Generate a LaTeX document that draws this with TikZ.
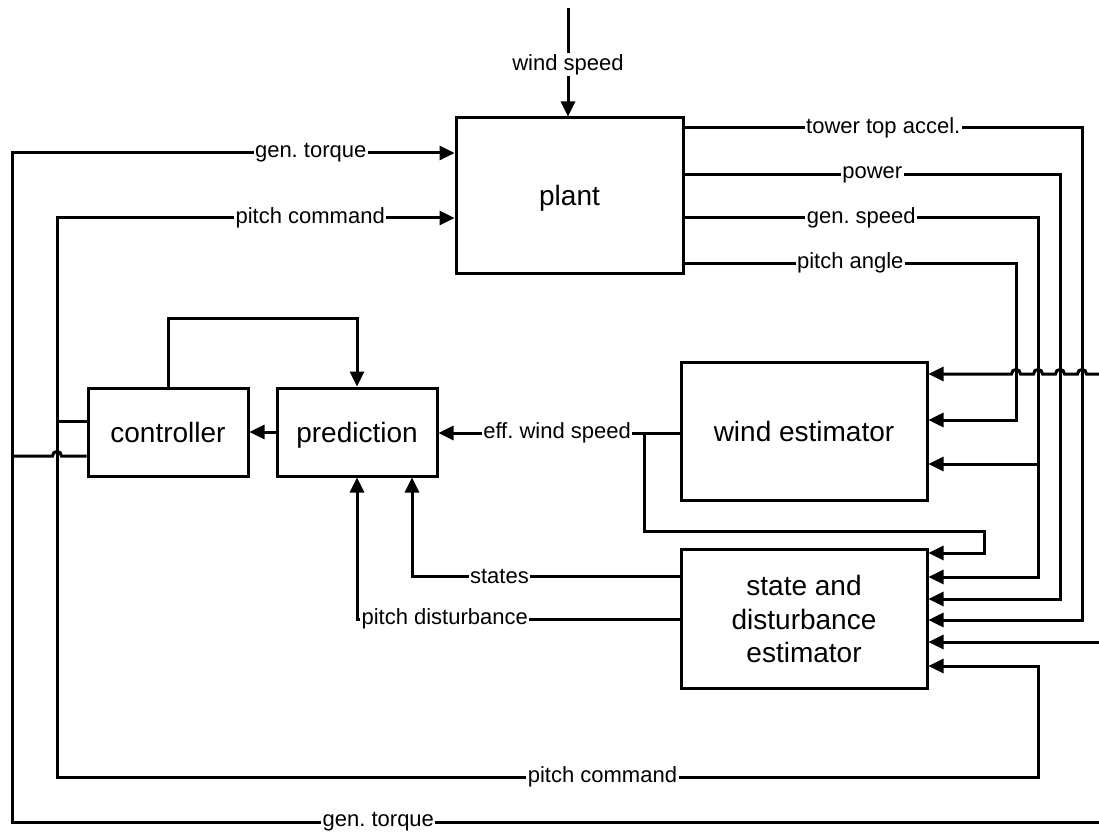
\documentclass[tikz,border=0pt]{standalone}
\usepackage{fontspec}
\setmainfont{Liberation Sans}
\usetikzlibrary{arrows.meta,calc}
\begin{document}
\frenchspacing
\begin{tikzpicture}[x=1pt,y=-1pt,
  blk/.style={draw, line width=3pt, inner sep=0pt, align=center, font=\fontsize{28}{33.5}\selectfont},
  one/.style={text height=20pt, text depth=0pt},
  wire/.style={line width=3pt},
  tip/.tip={Triangle[length=15pt,width=14pt]},
  arr/.style={wire, -tip},
  lbl/.style={fill=white, inner sep=1.5pt, font=\fontsize{22}{26}\selectfont},
]
\useasboundingbox (0,0) rectangle (1099,834);

% blocks
\node[blk, one, minimum width=227pt, minimum height=155pt] (plant) at (569.5,195.5) {plant};
\node[blk, one, minimum width=160pt, minimum height=88pt] (ctrl) at (168,432) {controller};
\node[blk, one, minimum width=160pt, minimum height=88pt] (pred) at (357,432) {prediction};
\node[blk, one, minimum width=246pt, minimum height=138pt] (wind) at (804,431) {wind estimator};
\node[blk, minimum width=246pt, minimum height=139pt] (state) at (804,619) {state and\\disturbance\\estimator};

% coordinates
\coordinate (wsTop) at (568,8);
\coordinate (gtL) at (12,153);
\coordinate (gtB) at (12,822);
\coordinate (gtE) at (1099,822);
\coordinate (pcL) at (57,218);
\coordinate (pcB) at (57,777);
\coordinate (pcR) at (1038,777);
\coordinate (pcS) at (1038,666);
\coordinate (c1) at (57,421);
\coordinate (c2) at (12,456);
\coordinate (fb) at (168,318);
\coordinate (ttR) at (1082,128);
\coordinate (ttS) at (1082,620);
\coordinate (pwR) at (1060,175);
\coordinate (pwS) at (1060,599);
\coordinate (gsR) at (1038,218);
\coordinate (gsW) at (1038,464);
\coordinate (gsS) at (1038,577);
\coordinate (paR) at (1016,263);
\coordinate (paW) at (1016,420);
\coordinate (in1) at (1099,374);
\coordinate (in2) at (1099,642);
\coordinate (br) at (644,433);
\coordinate (brB) at (644,531);
\coordinate (brR) at (984,531);
\coordinate (ew) at (984,553);
\coordinate (stY) at (412,576);
\coordinate (pdY) at (357,619);

% wind speed
\draw[arr] (wsTop) -- node[lbl,pos=0.52]{wind speed} (wsTop |- plant.north);

% gen. torque loop
\draw[wire, tip-] (plant.west |- gtL) -- node[lbl,pos=0.325]{gen. torque} (gtL) -- (gtB) -- node[lbl,pos=0.337]{gen. torque} (gtE);

% pitch command loop
\draw[wire, tip-tip] (plant.west |- pcL) -- node[lbl,pos=0.363]{pitch command} (pcL) -- (pcB) -- node[lbl,pos=0.556]{pitch command} (pcR) -- (pcS) -- (state.east |- pcS);

% controller outputs
\draw[wire] (ctrl.west |- c1) -- (c1);
\draw[wire] (ctrl.west |- c2) -- ($(c1 |- c2)+(4.5,0)$) .. controls +(0,-6) and +(0,-6) .. ($(c1 |- c2)+(-4.5,0)$) -- (c2);

% controller -> prediction feedback
\draw[arr] (ctrl.north) -- (fb) -- (fb -| pred.north) -- (pred.north);
\draw[arr] (pred.west) -- (ctrl.east);

% effective wind speed
\draw[arr] (wind.west |- br) -- node[lbl, pos=0.508]{eff. wind speed} (pred.east |- br);
\draw[arr] (br) -- (brB) -- (brR) -- (ew) -- (state.east |- ew);

% states and pitch disturbance
\draw[arr] (state.west |- stY) -- node[lbl,pos=0.673]{states} (stY) -- (stY |- pred.south);
\draw[arr] (state.west |- pdY) -- node[lbl,pos=0.728]{pitch disturbance} (pdY) -- (pred.south);

% plant outputs
\draw[arr] (plant.east |- ttR) -- node[lbl]{tower top accel.} (ttR) -- (ttS) -- (state.east |- ttS);
\draw[arr] (plant.east |- pwR) -- node[lbl]{power} (pwR) -- (pwS) -- (state.east |- pwS);
\draw[arr] (plant.east |- gsR) -- node[lbl]{gen. speed} (gsR) -- (gsS) -- (state.east |- gsS);
\draw[arr] (gsW) -- (wind.east |- gsW);
\draw[arr] (plant.east |- paR) -- node[lbl]{pitch angle} (paR) -- (paW) -- (wind.east |- paW);

% external inputs
\draw[arr] (in1)
  -- ($(ttR |- in1)+(4.5,0)$) .. controls +(0,-6) and +(0,-6) .. ($(ttR |- in1)+(-4.5,0)$)
  -- ($(pwR |- in1)+(4.5,0)$) .. controls +(0,-6) and +(0,-6) .. ($(pwR |- in1)+(-4.5,0)$)
  -- ($(gsR |- in1)+(4.5,0)$) .. controls +(0,-6) and +(0,-6) .. ($(gsR |- in1)+(-4.5,0)$)
  -- ($(paR |- in1)+(4.5,0)$) .. controls +(0,-6) and +(0,-6) .. ($(paR |- in1)+(-4.5,0)$)
  -- (wind.east |- in1);
\draw[arr] (in2) -- (state.east |- in2);
\end{tikzpicture}
\end{document}
